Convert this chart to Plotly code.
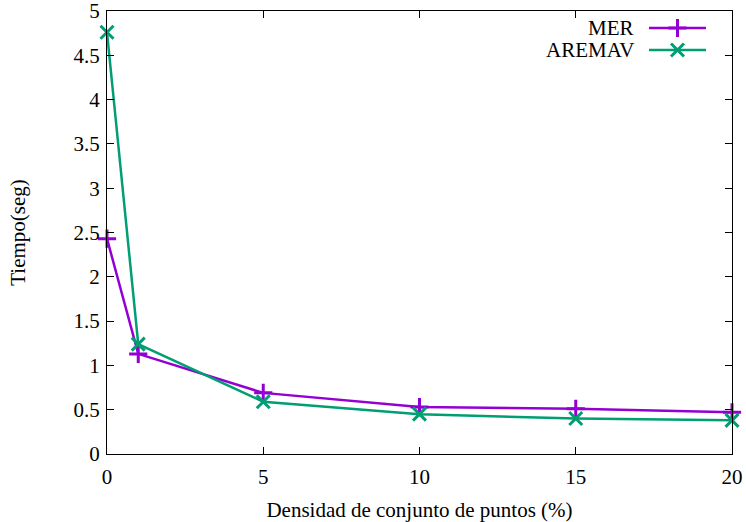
import plotly.graph_objects as go

x_vals = [0, 1, 5, 10, 15, 20]
mer = [2.43, 1.13, 0.69, 0.53, 0.51, 0.47]
aremav = [4.76, 1.24, 0.59, 0.45, 0.40, 0.38]
x_ticks = [0, 5, 10, 15, 20]
y_ticks = [0, 0.5, 1, 1.5, 2, 2.5, 3, 3.5, 4, 4.5, 5]
y_tick_text = ["0", "0.5", "1", "1.5", "2", "2.5", "3", "3.5", "4", "4.5", "5"]

PURPLE = "#9400D3"
GREEN = "#009E73"
FONT = "Liberation Serif"
FS = 21

fig = go.Figure()
fig.add_trace(go.Scatter(x=x_vals, y=mer, mode="lines+markers", name="MER",
                         line=dict(color=PURPLE, width=2.5),
                         marker=dict(symbol="cross-thin", size=13, line=dict(color=PURPLE, width=3)),
                         cliponaxis=False, showlegend=False))
fig.add_trace(go.Scatter(x=x_vals, y=aremav, mode="lines+markers", name="AREMAV",
                         line=dict(color=GREEN, width=2.5),
                         marker=dict(symbol="x-thin", size=13, line=dict(color=GREEN, width=3)),
                         cliponaxis=False, showlegend=False))

# legend samples on an overlay paper-like axis
W, H = 746, 522
L, R, T, B = 107, 14, 11, 68
pw, ph = W - L - R, H - T - B
def px(xp): return (xp - L) / pw
def py(yp): return 1 - (yp - T) / ph

leg = [("MER", PURPLE, "cross-thin", 13, 28), ("AREMAV", GREEN, "x-thin", 13, 50)]
for name, col, sym, sz, yc in leg:
    fig.add_trace(go.Scatter(x=[px(649), px(706)], y=[py(yc), py(yc)], mode="lines",
                             line=dict(color=col, width=2.5), xaxis="x2", yaxis="y2",
                             showlegend=False, hoverinfo="skip"))
    fig.add_trace(go.Scatter(x=[px(677.5)], y=[py(yc)], mode="markers",
                             marker=dict(symbol=sym, size=sz, line=dict(color=col, width=3)),
                             xaxis="x2", yaxis="y2", showlegend=False, hoverinfo="skip"))
    fig.add_annotation(x=px(636), y=py(yc), xref="x2", yref="y2", text=name,
                       showarrow=False, xanchor="right", yanchor="middle",
                       font=dict(family=FONT, size=FS, color="black"))

fig.update_layout(
    width=W, height=H,
    margin=dict(l=L, r=R, t=T, b=B, autoexpand=False),
    paper_bgcolor="white", plot_bgcolor="white",
    font=dict(family=FONT, size=FS, color="black"),
    xaxis=dict(range=[0, 20], tickvals=x_ticks, ticks="inside", ticklen=7, tickcolor="black",
               showline=True, linecolor="black", linewidth=1, mirror="ticks", showgrid=False,
               zeroline=False, automargin=False, ticklabeloverflow="allow", ticklabelstandoff=4,
               title=dict(text="Densidad de conjunto de puntos (%)", standoff=14,
                          font=dict(family=FONT, size=FS))),
    yaxis=dict(range=[0, 5], tickvals=y_ticks, ticktext=y_tick_text, ticks="inside", ticklen=7,
               tickcolor="black", showline=True, linecolor="black", linewidth=1, mirror="ticks",
               showgrid=False, zeroline=False, automargin=False, ticklabeloverflow="allow",
               ticklabelstandoff=2,
               title=dict(text="Tiempo(seg)", standoff=42, font=dict(family=FONT, size=FS))),
    xaxis2=dict(range=[0, 1], overlaying="x", visible=False, fixedrange=True),
    yaxis2=dict(range=[0, 1], overlaying="y", visible=False, fixedrange=True),
)

fig.write_html("out.html")
